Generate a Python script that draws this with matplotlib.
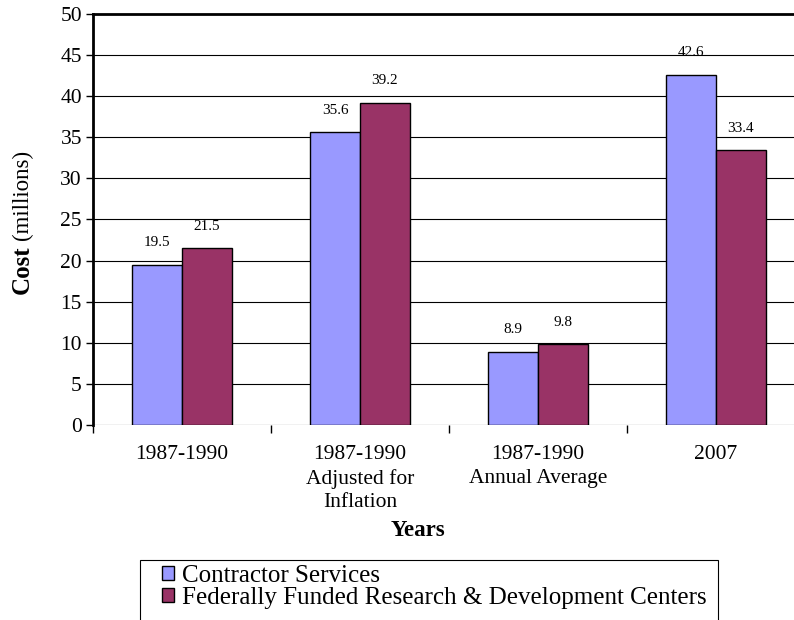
import numpy as np
import matplotlib.pyplot as plt
from matplotlib.patches import Patch, Rectangle

plt.rcParams['font.family'] = ['Liberation Serif', 'DejaVu Serif']

# Data
categories = ['1987-1990', '1987-1990\nAdjusted for\nInflation',
              '1987-1990\nAnnual Average', '2007']
contractor = [19.5, 35.6, 8.9, 42.6]
ffrdc = [21.5, 39.2, 9.8, 33.4]
series_names = ['Contractor Services',
                'Federally Funded Research & Development Centers']
colors = ['#9999FF', '#993366']

fig = plt.figure(figsize=(7.94, 6.2), dpi=100)
# axes runs a little past the right edge like the original
W, H = 794, 620
left, right, top, bottom = 93, 805, 14, 425
ax = fig.add_axes([left / W, 1 - bottom / H, (right - left) / W, (bottom - top) / H])

x = np.arange(len(categories))
bw = 0.28
b1 = ax.bar(x - bw / 2, contractor, bw, color=colors[0], edgecolor='black', linewidth=1, zorder=3)
b2 = ax.bar(x + bw / 2, ffrdc, bw, color=colors[1], edgecolor='black', linewidth=1, zorder=3)

for bars, vals in ((b1, contractor), (b2, ffrdc)):
    for r, v in zip(bars, vals):
        ax.text(r.get_x() + r.get_width() / 2, v + 2.7, f'{v}', ha='center', va='center',
                fontsize=11)

ax.set_xlim(-0.5, len(categories) - 0.5)
ax.set_ylim(0, 50)
ax.set_yticks(np.arange(0, 51, 5))
ax.tick_params(axis='y', direction='out', length=5, width=1, labelsize=15.5, pad=3)

ax.set_xticks(x)
ax.set_xticklabels(categories, fontsize=15.5, linespacing=1.32, va='top')
ax.tick_params(axis='x', length=0, pad=14.5)
# boundary ticks between categories
ax.set_xticks(np.arange(-0.5, len(categories), 1), minor=True)
ax.tick_params(axis='x', which='minor', direction='out', length=6, width=1)

for y in np.arange(0, 50, 5):
    ax.axhline(y, color='black', linewidth=0.8, zorder=1)

for s in ['right', 'bottom']:
    ax.spines[s].set_visible(False)
ax.spines['left'].set_linewidth(2)
ax.spines['top'].set_linewidth(2)

# y label: bold "Cost" + normal "(millions)"
fig.text(22 / W, 1 - 294 / H, 'Cost', rotation=90, ha='center', va='bottom',
         fontsize=18, fontweight='bold')
fig.text(22 / W, 1 - 240 / H, '(millions)', rotation=90, ha='center', va='bottom',
         fontsize=16.5)

fig.text(418 / W, 1 - 530 / H, 'Years', ha='center', va='center', fontsize=16.5,
         fontweight='bold')

# legend box (runs off the bottom edge)
fig.patches.append(Rectangle((140 / W, -0.05), (718 - 140) / W, 1 - 560 / H + 0.05,
                             transform=fig.transFigure, fill=False, edgecolor='black',
                             linewidth=0.8))
handles = [Patch(facecolor=c, edgecolor='black', linewidth=1) for c in colors]
fig.legend(handles, series_names, loc='upper left',
           bbox_to_anchor=(162 / W, 1 - 565 / H), fontsize=18, frameon=False,
           handlelength=0.48, handleheight=0.45, handletextpad=0.32,
           labelspacing=0.0, borderpad=0, borderaxespad=0)

fig.savefig('out.png', dpi=100)
